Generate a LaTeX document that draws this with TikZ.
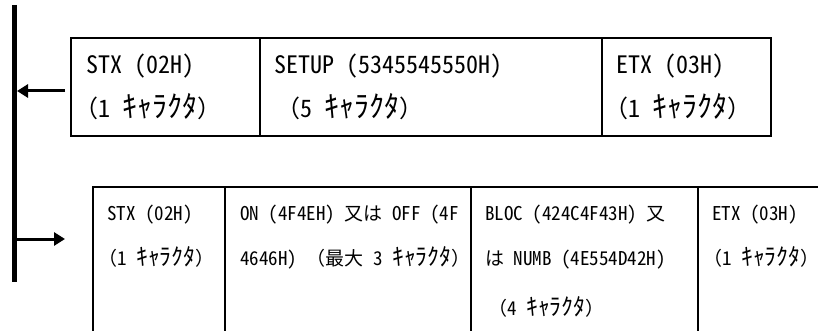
\documentclass[tikz,border=0pt]{standalone}
\usepackage{fontspec}
\usepackage{graphicx}
\setmainfont{Noto Sans Mono CJK JP}
\usetikzlibrary{arrows.meta}
\def\kana#1{\scalebox{1.25}{#1}}
\tikzset{
	cell/.style={anchor=base west, inner sep=0pt, font=\fontsize{24}{24}\selectfont},
	small cell/.style={cell, font=\fontsize{19}{19}\selectfont},
	frame/.style={line width=2pt},
	feed/.style={line width=3pt, -{Triangle[length=11pt,width=13pt]}}
}

\begin{document}
\begin{tikzpicture}[x=1pt,y=-1pt]
			%%%%% START %%%%%
			\useasboundingbox (0,0) rectangle (818,331);
			\clip (0,0) rectangle (818,331);
			
			% bus line
			\coordinate (bus top) at (14.5,5);
			\coordinate (bus bottom) at (14.5,282);
			\draw[line width=5pt] (bus top) -- (bus bottom);
			
			% upper message
			\draw[frame] (71,38) rectangle (771,136);
			\draw[frame] (260,38) -- (260,136);
			\draw[frame] (602,38) -- (602,136);
			
			\node[cell] (stx up) at (86,73.5) {STX (02H)};
			\node[cell] (stx up n) at (74,118) {（1 \kana{ｷｬﾗｸﾀ}）};
			\node[cell] (setup) at (274,73.5) {SETUP (5345545550H)};
			\node[cell] (setup n) at (276,118) {（5 \kana{ｷｬﾗｸﾀ}）};
			\node[cell] (etx up) at (616,73.5) {ETX (03H)};
			\node[cell] (etx up n) at (604,118) {（1 \kana{ｷｬﾗｸﾀ}）};
			
			\coordinate (up from) at (65,91);
			\coordinate (up to) at (17,91);
			\draw[feed] (up from) -- (up to);
			
			% lower message
			\draw[frame] (93,187) rectangle (840,360);
			\draw[frame] (225,187) -- (225,360);
			\draw[frame] (471,187) -- (471,360);
			\draw[frame] (698,187) -- (698,360);
			
			\node[small cell] (stx down) at (107,220) {STX (02H)};
			\node[small cell] (stx down n) at (98,265) {（1 \kana{ｷｬﾗｸﾀ}）};
			\node[small cell] (onoff) at (240,220) {ON (4F4EH) 又は OFF (4F};
			\node[small cell] (onoff b) at (240,265) {4646H) （最大 3 \kana{ｷｬﾗｸﾀ}）};
			\node[small cell] (bloc) at (485,220) {BLOC (424C4F43H) 又};
			\node[small cell] (bloc b) at (485,265) {は NUMB (4E554D42H)};
			\node[small cell] (bloc n) at (488,315) {（4 \kana{ｷｬﾗｸﾀ}）};
			\node[small cell] (etx down) at (712,220) {ETX (03H)};
			\node[small cell] (etx down n) at (703,265) {（1 \kana{ｷｬﾗｸﾀ}）};
			
			\coordinate (down from) at (17,239);
			\coordinate (down to) at (65,239);
			\draw[feed] (down from) -- (down to);
			
			%%%%% END %%%%%
\end{tikzpicture}
\end{document}
